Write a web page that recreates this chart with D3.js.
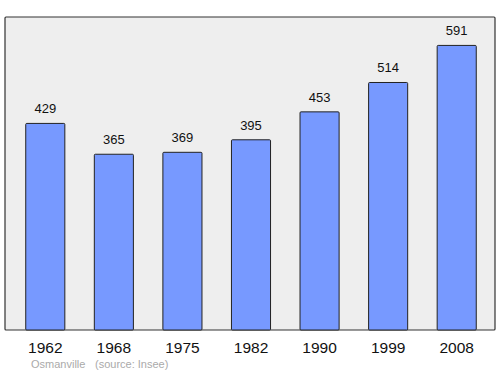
<!DOCTYPE html>
<html><head><meta charset="utf-8">
<script src="https://cdn.jsdelivr.net/npm/d3@7"></script>
<style>body{margin:0;background:#fff}svg{display:block}</style>
</head><body>
<svg id="c" width="500" height="374"></svg>
<script>
const years = ["1962","1968","1975","1982","1990","1999","2008"];
const population = [429,365,369,395,453,514,591];
const footerText = ["Osmanville", "(source: Insee)"];

const svg = d3.select("#c");
const frame = {x0:5, x1:495, y0:17, y1:330};
svg.append("rect").attr("x",frame.x0).attr("y",frame.y0)
  .attr("width",frame.x1-frame.x0).attr("height",frame.y1-frame.y0)
  .attr("fill","#eeeeee").attr("stroke","#333").attr("stroke-width",1.2).attr("rx",1);

const x = d3.scaleBand().domain(years).range([11,491]).paddingInner(0.43).paddingOuter(0.215);
const y = d3.scaleLinear().domain([0,650]).range([330,17]);

svg.selectAll("rect.bar").data(population).join("rect").attr("class","bar")
  .attr("x",(d,i)=>x(years[i])).attr("width",x.bandwidth())
  .attr("y",d=>y(d)).attr("height",d=>y(0)-y(d))
  .attr("fill","#7799ff").attr("stroke","#222").attr("stroke-width",1).attr("rx",1);

svg.selectAll("text.val").data(population).join("text").attr("class","val")
  .attr("x",(d,i)=>x(years[i])+x.bandwidth()/2).attr("y",d=>y(d)-10)
  .attr("text-anchor","middle").attr("font-family","Liberation Sans, Arial, sans-serif")
  .attr("font-size",13).attr("fill","#111").text(d=>d);

const ax = svg.append("g").attr("transform","translate(0,330)")
  .call(d3.axisBottom(x).tickSize(0).tickPadding(11.5));
ax.select(".domain").remove();
ax.selectAll("text").attr("font-family","Liberation Sans, Arial, sans-serif").attr("font-size",15.5).attr("fill","#111");

svg.append("text").attr("x",31).attr("y",368).attr("font-family","Liberation Sans, Arial, sans-serif")
  .attr("font-size",11).attr("fill","#aaa").text(footerText[0]);
svg.append("text").attr("x",95).attr("y",368).attr("font-family","Liberation Sans, Arial, sans-serif")
  .attr("font-size",11).attr("fill","#aaa").text(footerText[1]);
</script>
</body></html>
